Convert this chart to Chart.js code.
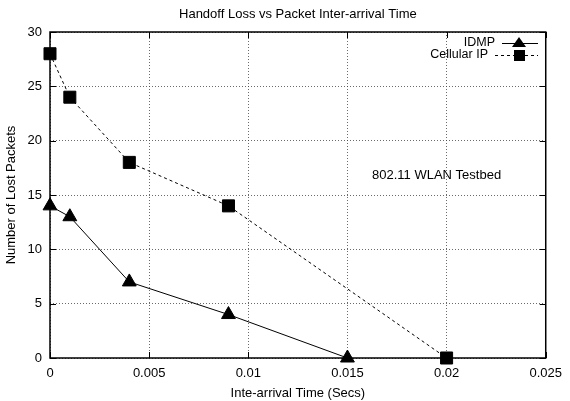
<!DOCTYPE html>
<html><head><meta charset="utf-8">
<script src="https://cdn.jsdelivr.net/npm/chart.js@4"></script>
<style>html,body{margin:0;padding:0;background:#fff}#wrap{width:570px;height:401px}</style>
</head><body><div id="wrap"><canvas id="c"></canvas></div>
<script>
const idmpX = [0, 0.001, 0.004, 0.009, 0.015];
const idmpY = [14, 13, 7, 4, 0];
const cipX = [0, 0.001, 0.004, 0.009, 0.02];
const cipY = [28, 24, 18, 14, 0];
const xTicks = [0, 0.005, 0.01, 0.015, 0.02, 0.025];
const xTickLabels = ['0', '0.005', '0.01', '0.015', '0.02', '0.025'];
const yTicks = [0, 5, 10, 15, 20, 25, 30];
const seriesNames = ['IDMP', 'Cellular IP'];
const titleText = 'Handoff Loss vs Packet Inter-arrival Time';
const xTitle = 'Inte-arrival Time (Secs)';
const yTitle = 'Number of Lost Packets';
const noteText = '802.11 WLAN Testbed';

const FONT = '"Liberation Sans", Arial, sans-serif';

const framePlugin = {
  id: 'frame',
  afterDraw(chart) {
    const ctx = chart.ctx, a = chart.chartArea;
    const xs = chart.scales.x, ys = chart.scales.y;
    ctx.save();
    ctx.strokeStyle = '#000'; ctx.lineWidth = 1;
    ctx.beginPath();
    xTicks.forEach(v => {
      const px = Math.round(xs.getPixelForValue(v)) + 0.5;
      ctx.moveTo(px, a.bottom); ctx.lineTo(px, a.bottom - 6);
      ctx.moveTo(px, a.top); ctx.lineTo(px, a.top + 6);
    });
    yTicks.forEach(v => {
      const py = Math.round(ys.getPixelForValue(v)) + 0.5;
      ctx.moveTo(a.left, py); ctx.lineTo(a.left + 6, py);
      ctx.moveTo(a.right, py); ctx.lineTo(a.right - 6, py);
    });
    ctx.stroke();
    ctx.lineWidth = 1.5;
    ctx.strokeRect(a.left, a.top, a.right - a.left, a.bottom - a.top);
    ctx.fillStyle = '#000';
    ctx.font = '13px ' + FONT;
    ctx.textAlign = 'center'; ctx.textBaseline = 'middle';
    ctx.fillText(titleText, (a.left + a.right) / 2, 14);
    ctx.textAlign = 'left';
    ctx.fillText(noteText, 372, 175);
    ctx.font = '12.5px ' + FONT;
    const items = [
      {name: seriesNames[0], dash: [], marker: 'tri', y: 43, tx: 495, lx: 502},
      {name: seriesNames[1], dash: [3, 3], marker: 'sq', y: 55, tx: 488, lx: 495}
    ];
    items.forEach(it => {
      ctx.textAlign = 'right';
      ctx.fillText(it.name, it.tx, it.y);
      ctx.setLineDash(it.dash);
      ctx.lineWidth = 1;
      ctx.beginPath(); ctx.moveTo(it.lx, it.y + 0.5); ctx.lineTo(538, it.y + 0.5); ctx.stroke();
      ctx.setLineDash([]);
      ctx.beginPath();
      if (it.marker === 'tri') {
        ctx.moveTo(519, it.y - 6); ctx.lineTo(526, it.y + 4); ctx.lineTo(512, it.y + 4); ctx.closePath();
      } else {
        ctx.rect(514, it.y - 5, 11, 11);
      }
      ctx.fill();
    });
    ctx.restore();
  }
};

const toPts = (xs, ys) => xs.map((x, i) => ({x, y: ys[i]}));

new Chart(document.getElementById('c'), {
  type: 'scatter',
  data: {
    datasets: [
      {label: seriesNames[0], data: toPts(idmpX, idmpY), showLine: true, borderColor: '#000', backgroundColor: '#000',
       borderWidth: 1, pointStyle: 'triangle', pointRadius: 8, pointHoverRadius: 8, clip: false},
      {label: seriesNames[1], data: toPts(cipX, cipY), showLine: true, borderColor: '#000', backgroundColor: '#000',
       borderWidth: 1, borderDash: [3, 3], pointStyle: 'rect', pointRadius: 8.5, pointHoverRadius: 8.5, clip: false}
    ]
  },
  options: {
    responsive: true, maintainAspectRatio: false, animation: false,
    layout: {padding: {top: 32, right: 16, left: 0, bottom: 0}},
    plugins: {legend: {display: false}, title: {display: false}, tooltip: {enabled: false}},
    scales: {
      x: {
        type: 'linear', min: 0, max: 0.025,
        afterBuildTicks: s => { s.ticks = xTicks.map(v => ({value: v})); },
        afterFit: s => { s.height = 43; },
        ticks: {color: '#000', font: {family: FONT, size: 13}, padding: 8, maxRotation: 0,
                callback: (v) => { const i = xTicks.findIndex(t => Math.abs(t - v) < 1e-9); return i >= 0 ? xTickLabels[i] : ''; }},
        grid: {color: '#444', lineWidth: 0.8, drawTicks: false},
        border: {display: false, dash: [1, 2]},
        title: {display: true, text: xTitle, color: '#000', font: {family: FONT, size: 13}, padding: {top: 0, bottom: 0}}
      },
      y: {
        type: 'linear', min: 0, max: 30,
        afterBuildTicks: s => { s.ticks = yTicks.map(v => ({value: v})); },
        afterFit: s => { s.width = 50; },
        ticks: {color: '#000', font: {family: FONT, size: 13}, padding: 8},
        grid: {color: '#444', lineWidth: 0.8, drawTicks: false},
        border: {display: false, dash: [1, 2]},
        title: {display: true, text: yTitle, color: '#000', font: {family: FONT, size: 13}, padding: {top: 4, bottom: 0}}
      }
    }
  },
  plugins: [framePlugin]
});
</script></body></html>
